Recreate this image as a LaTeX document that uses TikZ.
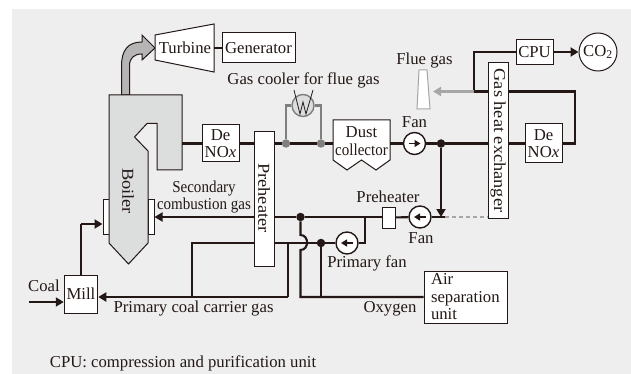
\documentclass[tikz,border=0pt]{standalone}
\usepackage{fontspec}
\setmainfont{Liberation Serif}
\usepackage{tikz}
\usetikzlibrary{arrows.meta}

\definecolor{inkdark}{HTML}{231815}
\definecolor{panelgrey}{HTML}{EEEEEE}
\definecolor{boilergrey}{HTML}{DCDDDD}
\definecolor{steamgrey}{HTML}{B5B5B5}
\definecolor{coolergrey}{HTML}{7F7F7F}
\definecolor{fluegrey}{HTML}{A6A6A6}

\newcommand{\narrowtext}[1]{\scalebox{0.9}[1]{#1}}
\newcommand{\widetext}[1]{\scalebox{1.1}[1]{#1}}

\tikzset{
    lbl/.style={inner sep=0pt,text=inkdark,align=center,font=\fontsize{16.7}{17.5}\selectfont},
    boxnode/.style={draw=inkdark,fill=white,line width=1pt,inner sep=0pt,align=center,text=inkdark,font=\fontsize{16.7}{17.5}\selectfont},
    fannode/.style={circle,draw=inkdark,fill=white,line width=1.4pt,inner sep=0pt,minimum size=22},
    dotnode/.style={circle,fill=inkdark,inner sep=0pt,minimum size=8.5},
    greydot/.style={circle,fill=coolergrey,inner sep=0pt,minimum size=8.5},
    pipe/.style={draw=inkdark,line width=2.1pt},
    pipearrow/.style={pipe,-{Triangle[length=8,width=9]}},
    coolerpipe/.style={draw=coolergrey,line width=2.1pt}
}

\begin{document}
\begin{tikzpicture}[x=1pt,y=-1pt]
    \useasboundingbox (0,0) rectangle (631,374);
    \fill[panelgrey] (12,9) rectangle (631,374);

    % draw boiler and steam arrow
    \draw[draw=inkdark,fill=steamgrey,line width=1pt] (121.5,95) -- (121.5,66) .. controls (121.5,50) and (128,42) .. (142,42) -- (142,35) -- (155,48) -- (142,60) -- (142,54) .. controls (134,54) and (129.5,58) .. (129.5,66) -- (129.5,95) -- cycle;
    \node[boxnode,minimum width=6,minimum height=35] (burnerl) at (106,216.5) {};
    \node[boxnode,minimum width=6,minimum height=35] (burnerr) at (151,216.5) {};
    \draw[draw=inkdark,fill=boilergrey,line width=1pt] (109,95) -- (182,95) -- (182,170) -- (157,170) -- (157,123.5) -- (147,123.5) -- (134.5,137) -- (148,151) -- (148,243) -- (128.5,264) -- (109,243) -- cycle;
    \node[lbl,rotate=-90] (boilerlabel) at (128,191) {\widetext{Boiler}};
    \coordinate (boilerout) at (182,143.5);

    % draw turbine and generator
    \draw[draw=inkdark,fill=white,line width=1pt] (155,35) -- (214,24) -- (214,72) -- (155,60) -- cycle;
    \node[lbl] (turbine) at (185,48) {Turbine};
    \coordinate (turbineout) at (214,48);
    \node[boxnode,minimum width=73,minimum height=30] (generator) at (258.5,48) {Generator};

    % draw boxes
    \node[boxnode,minimum width=37,minimum height=37] (denoxa) at (220.5,143.5) {De\\NO\textit{x}};
    \node[boxnode,minimum width=20,minimum height=134] (preheatera) at (264,199) {};
    \node[lbl,rotate=-90] (preheateralabel) at (264,198) {\widetext{Preheater}};
    \node[boxnode,minimum width=20,minimum height=155] (exchanger) at (498,140.5) {};
    \node[lbl,rotate=-90] (exchangerlabel) at (498,140.5) {\widetext{Gas heat exchanger}};
    \node[boxnode,minimum width=37,minimum height=39] (denoxb) at (543.5,143.5) {De\\NO\textit{x}};
    \node[boxnode,minimum width=37,minimum height=25] (cpu) at (534.5,52) {CPU};
    \node[boxnode,circle,minimum size=38] (co2) at (598,52) {CO\textsubscript{2}};
    \node[boxnode,minimum width=13,minimum height=21] (preheaterb) at (388.5,217.5) {};
    \node[boxnode,minimum width=33.5,minimum height=38] (mill) at (81,294) {Mill};
    \node[boxnode,minimum width=83,minimum height=52,align=left,text width=69] (airsep) at (465.5,297) {Air\\separation\\unit};

    % draw dust collector and stack
    \draw[draw=inkdark,fill=white,line width=1pt] (333,120) -- (390,120) -- (390,160) -- (376,170) -- (361.5,160) -- (347,170) -- (333,160) -- cycle;
    \node[lbl] (dust) at (361.5,141) {Dust\\\narrowtext{collector}};
    \coordinate (dustin) at (333,143.5);
    \coordinate (dustout) at (390,143.5);
    \draw[draw=fluegrey,fill=white,line width=1pt] (419,70) -- (427,70) -- (430,109) -- (417,109) -- cycle;

    % draw fans
    \node[fannode] (fana) at (414.5,143.5) {};
    \node[fannode] (fanb) at (420,217) {};
    \node[fannode] (fanc) at (347,243) {};
    \foreach \f/\d in {fana/6,fanb/-6,fanc/-6}
        \draw[draw=inkdark,line width=1.4pt,-{Triangle[length=6,width=7]}] ([xshift=-\d]\f.center) -- ([xshift=\d]\f.center);

    % draw gas cooler
    \node[circle,draw=coolergrey,fill=boilergrey,line width=1.4pt,inner sep=0pt,minimum size=22] (cooler) at (303,105.5) {};
    \draw[draw=inkdark,line width=0.8pt] (294,90) -- (300,114) -- (303,102) -- (306,114) -- (313,90);

    % draw junctions
    \node[greydot] (coolera) at (286,143.5) {};
    \node[greydot] (coolerb) at (321,143.5) {};
    \node[dotnode] (fanjoin) at (441,143.5) {};
    \node[dotnode] (secjoin) at (300.5,217) {};
    \node[dotnode] (prijoin) at (321,243) {};

    % corner points
    \coordinate (loopa) at (575,91.5);
    \coordinate (loopb) at (474,91.5);
    \coordinate (cpucorner) at (474,52);
    \coordinate (stackgas) at (433,91.5);
    \coordinate (fanbend) at (441,217);
    \coordinate (fanend) at (445,217);
    \coordinate (hoptop) at (300.5,235);
    \coordinate (hopbot) at (300.5,250);
    \coordinate (hopend) at (300.5,297);
    \coordinate (oxyjoin) at (321,297);
    \coordinate (fancbend) at (365,243);
    \coordinate (fancup) at (365,217);
    \coordinate (prileft) at (192,243);
    \coordinate (prilow) at (192,297);
    \coordinate (carrier) at (288,243);
    \coordinate (carrierlow) at (288,297);
    \coordinate (millup) at (81,224);
    \coordinate (coalin) at (29,302);

    % draw connections
    \draw[pipe] (turbineout) -- (generator);
    \draw[pipe] (boilerout) -- (denoxa);
    \draw[pipe] (denoxa) -- (preheatera.west |- denoxa);
    \draw[pipe] (preheatera.east |- denoxa) -- (coolera);
    \draw[pipe] (coolera) -- (coolerb);
    \draw[pipe] (coolerb) -- (dustin);
    \draw[pipe] (dustout) -- (fana);
    \draw[pipe] (fana) -- (fanjoin);
    \draw[pipe] (fanjoin) -- (exchanger.west |- fanjoin);
    \draw[pipe] (exchanger.east |- denoxb) -- (denoxb);
    \draw[pipe] (denoxb) -| (loopa) -- (exchanger.east |- loopa);
    \draw[pipe] (exchanger.west |- loopa) -- (loopb);
    \draw[pipe] (loopb) -- (cpucorner) -- (cpu);
    \draw[pipearrow] (cpu) -- (co2);
    \draw[draw=fluegrey,line width=2.1pt,-{Triangle[length=8,width=9]}] (loopb) -- (stackgas);
    \draw[coolerpipe] (coolera) |- (cooler);
    \draw[coolerpipe] (coolerb) |- (cooler);
    \draw[pipearrow] (fanjoin) -- (fanbend);
    \draw[pipe] (fanend) -- (fanb);
    \draw[draw=fluegrey,line width=2.1pt,dash pattern=on 4pt off 3pt] (fanend) -- (exchanger.west |- fanend);
    \draw[pipe] (fanb) -- (preheaterb);
    \draw[pipe] (preheaterb.west |- secjoin) -- (secjoin);
    \draw[pipe] (secjoin) -- (preheatera.east |- secjoin);
    \draw[pipearrow] (preheatera.west |- secjoin) -- (burnerr.east |- secjoin);
    \draw[pipe] (secjoin) -- (hoptop) to[out=0,in=0,looseness=1.5] (hopbot) -- (hopend) -- (airsep.west |- hopend);
    \draw[pipe] (prijoin) -- (oxyjoin);
    \draw[pipe] (fanc) -- (fancbend) -- (fancup);
    \draw[pipe] (fanc) -- (prijoin);
    \draw[pipe] (prijoin) -- (preheatera.east |- prijoin);
    \draw[pipe] (preheatera.west |- prileft) -- (prileft) -- (prilow) -- (carrierlow);
    \draw[pipe] (carrier) -- (carrierlow);
    \draw[pipearrow] (carrierlow) -- (mill.east |- carrierlow);
    \draw[pipe] (mill.north) -- (millup);
    \draw[pipearrow] (millup) -- (burnerl.west |- millup);
    \draw[pipearrow] (coalin) -- (mill.west |- coalin);

    % labels
    \node[lbl] (coolerlabel) at (303.5,80) {Gas cooler for flue gas};
    \node[lbl] (fluelabel) at (424.5,60.5) {Flue gas};
    \node[lbl] (fanalabel) at (414.5,122) {Fan};
    \node[lbl] (fanblabel) at (421,238) {Fan};
    \node[lbl] (preheaterblabel) at (388,197) {Preheater};
    \node[lbl] (fanclabel) at (367,263) {Primary fan};
    \node[lbl] (oxygenlabel) at (390,309) {Oxygen};
    \node[lbl] (secondlabel) at (204,197) {\narrowtext{Secondary}\\\narrowtext{combustion gas}};
    \node[lbl] (carrierlabel) at (193.5,309) {Primary coal carrier gas};
    \node[lbl] (coallabel) at (44,286) {Coal};
    \node[lbl] (notelabel) at (183,363) {CPU: compression and purification unit};
\end{tikzpicture}
\end{document}
